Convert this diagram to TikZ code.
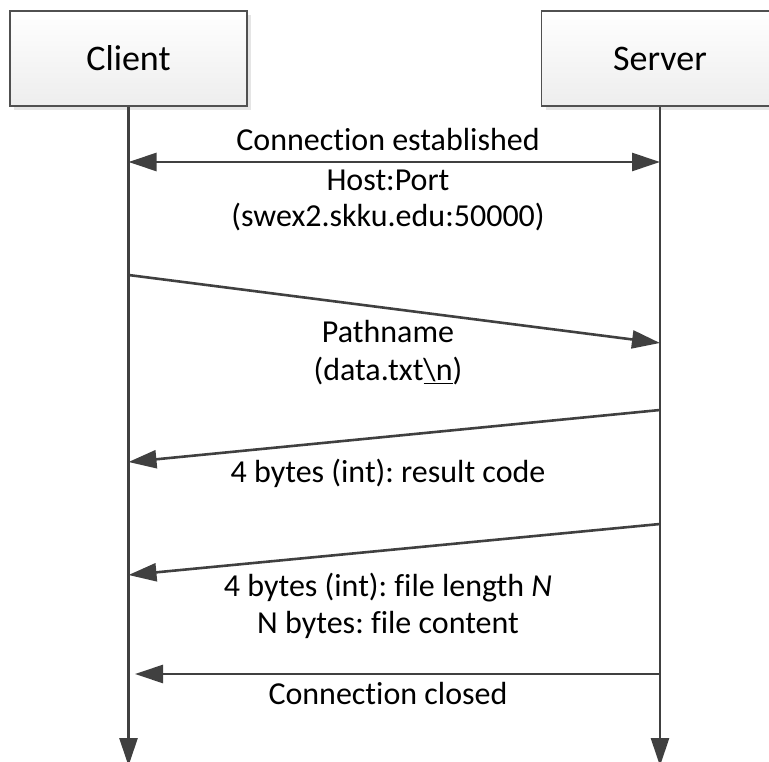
\documentclass[tikz,border=0pt]{standalone}
\usepackage{fontspec}
\setmainfont{Carlito}[Ligatures=NoCommon]
\usetikzlibrary{arrows.meta,shadows}
\definecolor{ln}{HTML}{404040}
\definecolor{bd}{HTML}{505050}
\frenchspacing
\begin{document}
\begin{tikzpicture}[x=1pt,y=-1pt,
 actor/.style={draw=bd,line width=1.1pt,top color=white,bottom color=black!7,
   minimum width=237pt,minimum height=95pt,inner sep=0pt,
   drop shadow={shadow xshift=4pt,shadow yshift=-4pt,fill=black!10,opacity=1},
   font=\fontsize{36}{43}\selectfont},
 life/.style={draw=ln,line width=2.6pt,-{Triangle[length=28pt,width=18pt]}},
 msg/.style={draw=ln,line width=2.6pt,-{Triangle[length=28pt,width=18pt]}},
 lbl/.style={anchor=base,inner sep=0pt,font=\fontsize{32}{38}\selectfont,text=black}]
\useasboundingbox (0,0) rectangle (769,762);
\clip (0,0) rectangle (769,762);
% actors
\node[actor] (client) at (128.5,58.5) {Client};
\node[actor] (server) at (660,58.5) {Server};
% lifeline ends
\coordinate (cend) at (128.5,766);
\coordinate (send) at (660,766);
\draw[life] (client.south) -- (cend);
\draw[life] (server.south) -- (send);
% message points
\coordinate (c1) at (128.5,162);
\coordinate (s1) at (660,162);
\coordinate (c2) at (128.5,275);
\coordinate (s2) at (660,343);
\coordinate (s3) at (660,410);
\coordinate (c3) at (128.5,462);
\coordinate (s4) at (660,524);
\coordinate (c4) at (128.5,575);
\coordinate (s5) at (660,674);
\coordinate (c5) at (135,674);
% messages
\draw[msg,{Triangle[length=28pt,width=18pt]}-{Triangle[length=28pt,width=18pt]}] (c1) -- (s1);
\draw[msg] (c2) -- (s2);
\draw[msg] (s3) -- (c3);
\draw[msg] (s4) -- (c4);
\draw[msg] (s5) -- (c5);
% labels
\node[lbl] (l1) at (388,151) {Connection established};
\node[lbl] (l2) at (388,191) {Host:Port};
\node[lbl] (l3) at (388,227) {(swex2.skku.edu:50000)};
\node[lbl] (l4) at (388,342) {Pathname};
\node[lbl] (l5) at (388,380) {(data.txt\underline{\textbackslash n})};
\node[lbl] (l6) at (388,482) {4 bytes (int): result code};
\node[lbl] (l7) at (388,596) {4 bytes (int): file length \textit{N}};
\node[lbl] (l8) at (388,633) {N bytes: file content};
\node[lbl] (l9) at (388,704) {Connection closed};
\end{tikzpicture}
\end{document}
